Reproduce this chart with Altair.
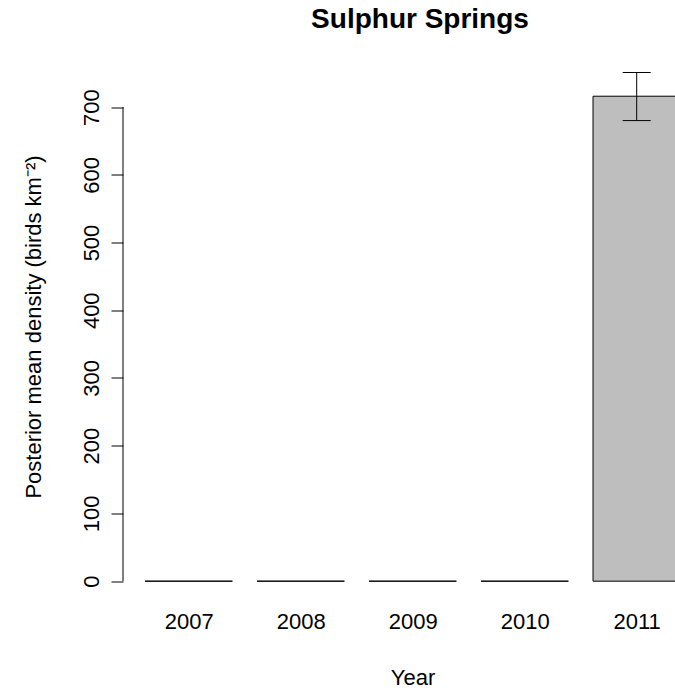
import altair as alt
import pandas as pd

years = ["2007", "2008", "2009", "2010", "2011"]
means = [0, 0, 0, 0, 716]
lower = [None, None, None, None, 680]
upper = [None, None, None, None, 751]
y_ticks = [0, 100, 200, 300, 400, 500, 600, 700]

FONT = "Liberation Sans, Arial, Helvetica, sans-serif"
HALF_BAR = 0.39
HALF_CAP = 0.125

df = pd.DataFrame({"year": years, "mean": means, "lower": lower, "upper": upper})
df["idx"] = range(1, len(years) + 1)
df["x0"] = df["idx"] - HALF_BAR
df["x1"] = df["idx"] + HALF_BAR
df["c0"] = df["idx"] - HALF_CAP
df["c1"] = df["idx"] + HALF_CAP
df["base"] = 0
err = df.dropna(subset=["lower"])

xscale = alt.Scale(domain=[0.4134, 5.342], nice=False, zero=False)
yscale = alt.Scale(domain=[-30, 782], nice=False, zero=False)

label_expr = "[" + ",".join("'%s'" % y for y in years) + "][datum.value - 1]"

xaxis = alt.Axis(
    values=list(range(1, len(years) + 1)), labelExpr=label_expr,
    domain=False, ticks=False, grid=False, labelFont=FONT, labelFontSize=22,
    labelColor="black", labelPadding=10, labelFlush=False,
    title="Year", titleFont=FONT, titleFontSize=22, titleFontWeight="normal",
    titleColor="black", titleX=289.5, titleY=83, titleBaseline="alphabetic",
    titleAnchor="start", titleAlign="center")
yaxis = alt.Axis(
    values=y_ticks, domain=False, grid=False, tickSize=12, tickColor="black",
    tickWidth=1, labelAngle=270, labelAlign="center", labelBaseline="bottom",
    labelFont=FONT, labelFontSize=22, labelColor="black", labelPadding=8,
    title="Posterior mean density (birds km\u207b\u00b2)", titleFont=FONT,
    titleFontSize=22, titleFontWeight="normal", titleColor="black",
    titleX=-90, titleBaseline="middle")

bars = alt.Chart(df).mark_rect(
    fill="#BEBEBE", stroke="black", strokeWidth=1, clip=True
).encode(
    x=alt.X("x0:Q", scale=xscale, axis=xaxis),
    x2="x1:Q",
    y=alt.Y("base:Q", scale=yscale, axis=yaxis),
    y2="mean:Q",
)

stem = alt.Chart(err).mark_rule(color="black", strokeWidth=1, clip=True).encode(
    x=alt.X("idx:Q", scale=xscale, axis=xaxis),
    y=alt.Y("lower:Q", scale=yscale, axis=yaxis),
    y2="upper:Q",
)
cap_hi = alt.Chart(err).mark_rule(color="black", strokeWidth=1, clip=True).encode(
    x=alt.X("c0:Q", scale=xscale, axis=xaxis), x2="c1:Q",
    y=alt.Y("upper:Q", scale=yscale, axis=yaxis),
)
cap_lo = alt.Chart(err).mark_rule(color="black", strokeWidth=1, clip=True).encode(
    x=alt.X("c0:Q", scale=xscale, axis=xaxis), x2="c1:Q",
    y=alt.Y("lower:Q", scale=yscale, axis=yaxis),
)

axis_df = pd.DataFrame({"lo": [min(y_ticks)], "hi": [max(y_ticks)]})
axis_line = alt.Chart(axis_df).mark_rule(color="black", strokeWidth=1).encode(
    x=alt.value(0),
    y=alt.Y("lo:Q", scale=yscale, axis=yaxis),
    y2="hi:Q",
)

chart = alt.layer(bars, stem, cap_hi, cap_lo, axis_line).properties(
    width=552, height=550,
    autosize=alt.AutoSizeParams(type="none"),
    padding={"left": 123, "top": 51.5, "right": 0, "bottom": 90.5},
    title=alt.Title("Sulphur Springs", font=FONT, fontSize=28, fontWeight="bold",
                    color="black", anchor="middle", dx=21, offset=23.5, dy=28,
                    baseline="alphabetic"),
    background="white",
).configure_view(stroke=None)

chart.save("out.html", embed_options={"renderer": "svg", "actions": False})
